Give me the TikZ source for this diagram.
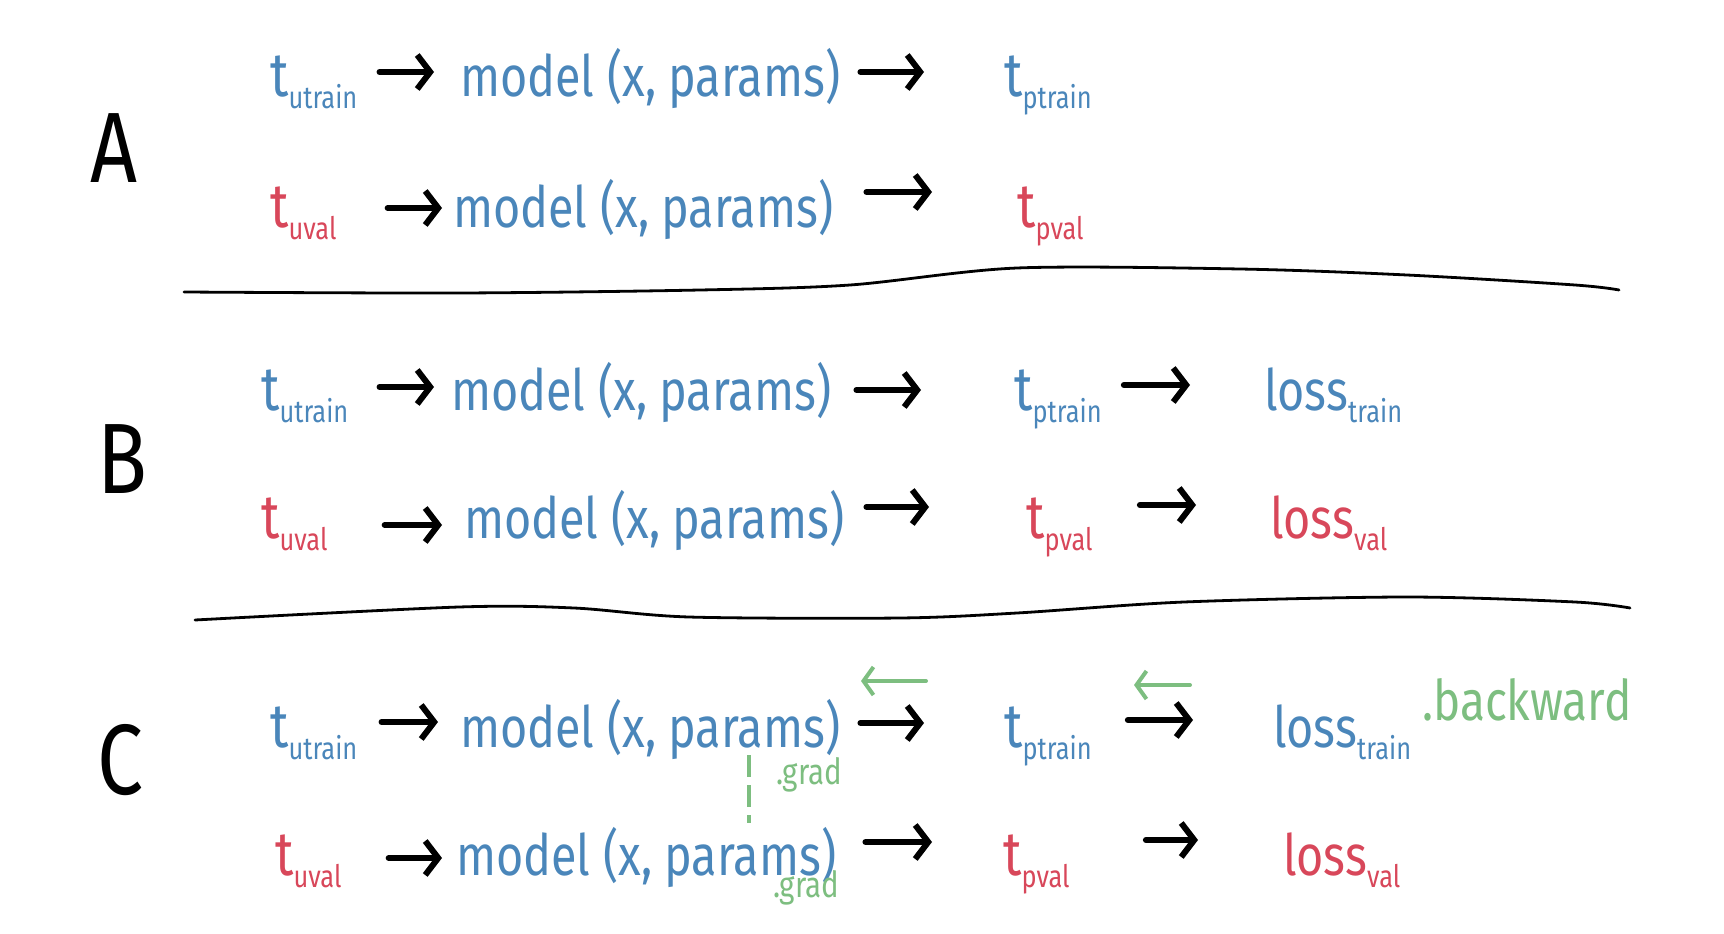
\documentclass[tikz,border=0pt]{standalone}
\usepackage{fontspec}
\setmainfont{Fira Sans}[FakeStretch=0.82]
\usepackage{tikz}
\usetikzlibrary{arrows.meta, calc}

\definecolor{tblue}{HTML}{4A86BA}
\definecolor{tred}{HTML}{D8475A}
\definecolor{tgreen}{HTML}{7DBE80}

\newcommand{\subtxt}[1]{\raisebox{-12pt}{\fontsize{31}{34}\selectfont #1}}

\begin{document}
\begin{tikzpicture}[
    x=1pt, y=-1pt,
    txt/.style={inner sep=0pt, anchor=base west, font=\fontsize{57}{62}\selectfont},
    tvar/.style={txt, font=\fontsize{62}{66}\selectfont},
    trn/.style={text=tblue},
    vl/.style={text=tred},
    sec/.style={inner sep=0pt, anchor=base west, font=\fontsize{100}{110}\selectfont},
    grd/.style={inner sep=0pt, anchor=base west, text=tgreen, font=\fontsize{36}{40}\selectfont},
    arr/.style={line width=6pt, line cap=round, -{Straight Barb[length=13pt, width=34pt, line width=6pt]}},
    bck/.style={draw=tgreen, line width=4pt, line cap=round, -{Straight Barb[length=10pt, width=28pt, line width=4pt]}},
    sepline/.style={line width=2.8pt, line cap=round}
]
\useasboundingbox (0,0) rectangle (1724,934);

% A
\node[sec] (labA) at (90,182) {A};
\node[tvar, trn] (tutA) at (270,96) {t\subtxt{utrain}};
\node[txt, trn] (modA) at (460,96) {model (x, params)};
\node[tvar, trn] (tptA) at (1004,96) {t\subtxt{ptrain}};
\node[tvar, vl] (tuvA) at (270,227) {t\subtxt{uval}};
\node[txt, trn] (modvA) at (453,227) {model (x, params)};
\node[tvar, vl] (tpvA) at (1017,227) {t\subtxt{pval}};

\draw[arr] ([xshift=22pt, yshift=24pt]tutA.base east) -- ([xshift=-26pt, yshift=24pt]modA.base west);
\draw[arr] ([xshift=20pt, yshift=24pt]modA.base east) -- ([xshift=-80pt, yshift=24pt]tptA.base west);
\draw[arr] ([xshift=51pt, yshift=19pt]tuvA.base east) -- ([xshift=-11pt, yshift=19pt]modvA.base west);
\draw[arr] ([xshift=33pt, yshift=35pt]modvA.base east) -- ([xshift=-85pt, yshift=35pt]tpvA.base west);

\draw[sepline] plot[smooth] coordinates {(184,292) (459,293) (700,290) (850,285) (1017,268) (1240,269) (1407,275) (1575,285) (1619,290)};

% B
\node[sec] (labB) at (97,493) {B};
\node[tvar, trn] (tutB) at (261,410) {t\subtxt{utrain}};
\node[txt, trn] (modB) at (451,410) {model (x, params)};
\node[tvar, trn] (tptB) at (1014,410) {t\subtxt{ptrain}};
\node[txt, trn] (lossB) at (1264,410) {loss\subtxt{train}};
\node[tvar, vl] (tuvB) at (261,538) {t\subtxt{uval}};
\node[txt, trn] (modvB) at (464,538) {model (x, params)};
\node[tvar, vl] (tpvB) at (1026,538) {t\subtxt{pval}};
\node[txt, vl] (lossvB) at (1270,538) {loss\subtxt{val}};

\draw[arr] ([xshift=31pt, yshift=23pt]tutB.base east) -- ([xshift=-17pt, yshift=23pt]modB.base west);
\draw[arr] ([xshift=25pt, yshift=20pt]modB.base east) -- ([xshift=-93pt, yshift=20pt]tptB.base west);
\draw[arr] ([xshift=22pt, yshift=25pt]tptB.base east) -- ([xshift=-74pt, yshift=25pt]lossB.base west);
\draw[arr] ([xshift=57pt, yshift=13pt]tuvB.base east) -- ([xshift=-22pt, yshift=13pt]modvB.base west);
\draw[arr] ([xshift=22pt, yshift=31pt]modvB.base east) -- ([xshift=-97pt, yshift=31pt]tpvB.base west);
\draw[arr] ([xshift=47pt, yshift=33pt]tpvB.base east) -- ([xshift=-74pt, yshift=33pt]lossvB.base west);

\draw[sepline] plot[smooth] coordinates {(195,620) (459,607) (574,608) (689,617) (900,618) (1017,613) (1184,602) (1407,597) (1575,602) (1630,608)};

% C
\node[sec] (labC) at (97,794) {C};
\node[tvar, trn] (tutC) at (270,747) {t\subtxt{utrain}};
\node[txt, trn] (modC) at (460,747) {model (x, params)};
\node[tvar, trn] (tptC) at (1004,747) {t\subtxt{ptrain}};
\node[txt, trn] (lossC) at (1273,747) {loss\subtxt{train}};
\node[grd, font=\fontsize{56}{60}\selectfont] (bwd) at (1422,720) {.backward};
\node[grd] (grdC) at (776,784) {.grad};
\node[tvar, vl] (tuvC) at (275,875) {t\subtxt{uval}};
\node[txt, trn] (modvC) at (456,875) {model (x, params)};
\node[tvar, vl] (tpvC) at (1003,875) {t\subtxt{pval}};
\node[txt, vl] (lossvC) at (1283,875) {loss\subtxt{val}};
\node[grd] (grdvC) at (773,897) {.grad};

\draw[arr] ([xshift=24pt, yshift=25pt]tutC.base east) -- ([xshift=-22pt, yshift=25pt]modC.base west);
\draw[arr] ([xshift=20pt, yshift=24pt]modC.base east) -- ([xshift=-80pt, yshift=24pt]tptC.base west);
\draw[arr] ([xshift=36pt, yshift=27pt]tptC.base east) -- ([xshift=-80pt, yshift=27pt]lossC.base west);
\draw[arr] ([xshift=47pt, yshift=17pt]tuvC.base east) -- ([xshift=-14pt, yshift=17pt]modvC.base west);
\draw[arr] ([xshift=29pt, yshift=33pt]modvC.base east) -- ([xshift=-71pt, yshift=33pt]tpvC.base west);
\draw[arr] ([xshift=76pt, yshift=35pt]tpvC.base east) -- ([xshift=-85pt, yshift=35pt]lossvC.base west);

% backward pass
\coordinate (gA) at (926,681);
\coordinate (gB) at (861,681);
\coordinate (gC) at (1190,685);
\coordinate (gD) at (1134,685);
\draw[bck] (gA) -- (gB);
\draw[bck] (gC) -- (gD);
\draw[tgreen, line width=4pt, dash pattern=on 22pt off 8pt] ([xshift=289pt, yshift=-8pt]modC.base west) -- ([xshift=293pt, yshift=52pt]modvC.base west);

\end{tikzpicture}
\end{document}
